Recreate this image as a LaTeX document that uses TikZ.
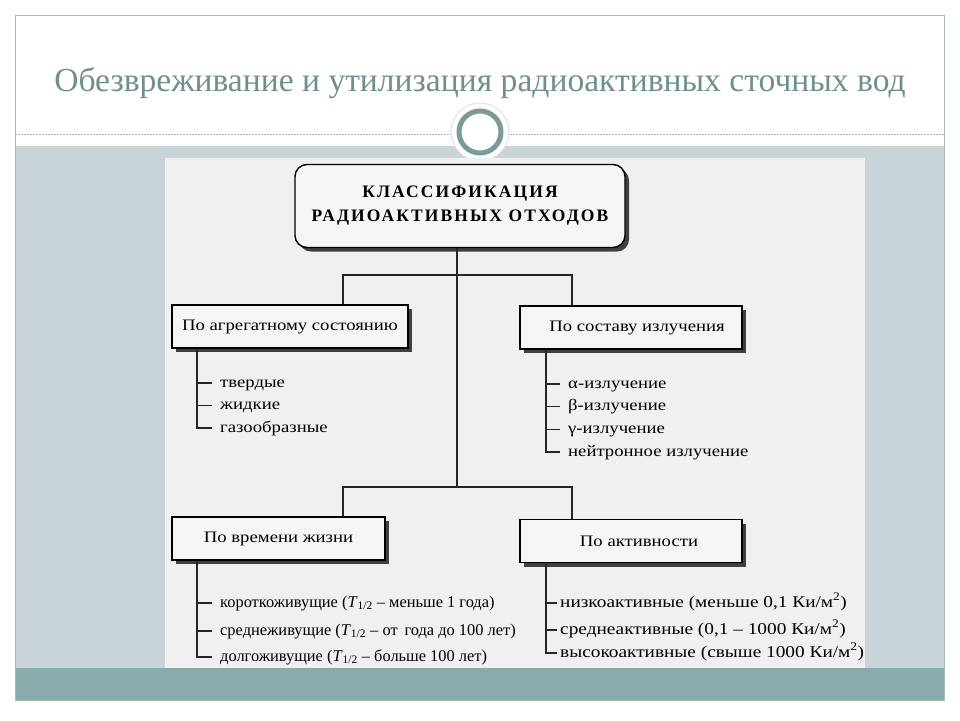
\documentclass[tikz,border=0pt]{standalone}
\usepackage{fontspec}
\setmainfont{Liberation Serif}
\newfontfamily\headfont[LetterSpace=12]{Liberation Serif}
\newfontfamily\widefont[FakeStretch=1.17]{Liberation Serif}
\usetikzlibrary{shadows}

\definecolor{slideteal}{HTML}{8AABAB}
\definecolor{slideband}{HTML}{C9D4D9}
\definecolor{slidetitle}{HTML}{6F8F8F}
\definecolor{ringteal}{HTML}{7B9B9B}
\definecolor{panelgray}{HTML}{F0F0F0}
\definecolor{framegray}{HTML}{A9B7B7}

\tikzset{
  catbox/.style={draw=black, line width=1.4pt, fill=black!4, minimum height=43pt,
    inner sep=0pt, font=\widefont\fontsize{16}{18}\selectfont,
    drop shadow={shadow xshift=4pt, shadow yshift=-4pt, fill=black!75, opacity=1}},
  item/.style={anchor=west, inner xsep=8pt, inner ysep=0pt, text height=11pt,
    text depth=3pt, font=\widefont\fontsize{16}{18}\selectfont},
  lifeitem/.style={item, font=\fontsize{16.4}{18}\selectfont},
  actitem/.style={item, inner xsep=3pt, font=\widefont\fontsize{16.5}{18}\selectfont},
  spine/.style={line width=1.3pt, black!85},
}

\begin{document}
\begin{tikzpicture}[x=1pt, y=-1pt]
  \useasboundingbox (0,0) rectangle (960,720);

  % --- Slide background ---
  \fill[white] (0,0) rectangle (960,720);
  \fill[slideband] (15,146) rectangle (944,668);
  \fill[slideteal] (15,668) rectangle (944,700);
  \draw[framegray, line width=0.8pt] (15,15) rectangle (944,700);
  \draw[framegray, dashed, dash pattern=on 2pt off 1pt, line width=0.7pt] (15,134) -- (944,134);

  % --- Ring ornament ---
  \fill[white, draw=black!12, line width=1pt] (480,132) circle (29);
  \draw[ringteal, line width=5pt] (480,132) circle (21);

  % --- Title ---
  \node[slidetitle, font=\fontsize{33.6}{36}\selectfont] (title) at (480,83)
    {Обезвреживание и утилизация радиоактивных сточных вод};

  % --- Panel ---
  \fill[panelgray] (165,158) rectangle (865,668);

  % --- Boxes ---
  \node[catbox, rounded corners=12pt, minimum width=330pt, minimum height=83pt,
    align=center, font=\fontsize{17.5}{24}\selectfont\headfont\bfseries] (cls) at (460,206)
    {КЛАССИФИКАЦИЯ\\РАДИОАКТИВНЫХ ОТХОДОВ};
  \node[catbox, minimum width=236pt] (agg) at (290,326.5) {По агрегатному состоянию};
  \node[catbox, minimum width=222pt] (rad) at (631,327.5) {\hspace{12pt}По составу излучения};
  \node[catbox, minimum width=213pt] (life) at (278.5,538.5) {По времени жизни};
  \node[catbox, minimum width=222pt] (act) at (631,541) {\hspace{16pt}По активности};

  % --- Tree connectors ---
  \coordinate (k1) at (343,275);
  \coordinate (k2) at (572,275);
  \coordinate (k3) at (343,487);
  \coordinate (k4) at (572,487);
  \coordinate (t2) at (457,487);
  \draw[spine] (cls.south -| t2) -- (t2);
  \draw[spine] (k1 |- agg.north) -- (k1) -- (k2) -- (k2 |- rad.north);
  \draw[spine] (k3 |- life.north) -- (k3) -- (k4) -- (k4 |- act.north);

  % --- Lists ---
  \coordinate (sl) at (197,0);
  \coordinate (sr) at (546,0);
  \foreach \t [count=\i] in {твердые, жидкие, газообразные}
    \node[item] (agg\i) at (212,{383+22.5*(\i-1)}) {\t};
  \foreach \t [count=\i] in {α-излучение, β-излучение, γ-излучение, нейтронное излучение}
    \node[item] (rad\i) at (560,{384+22.7*(\i-1)}) {\t};
  \node[lifeitem] (life1) at (212,603) {короткоживущие (\textit{T}\textsubscript{1/2} – меньше 1 года)};
  \node[lifeitem] (life2) at (212,631) {среднеживущие (\textit{T}\textsubscript{1/2} – от\, года до 100 лет)};
  \node[lifeitem] (life3) at (212,657) {долгоживущие (\textit{T}\textsubscript{1/2} – больше 100 лет)};
  \node[actitem] (act1) at (557,603) {низкоактивные (меньше 0,1 Ки/м\textsuperscript{2})};
  \node[actitem] (act2) at (557,630) {среднеактивные (0,1 – 1000 Ки/м\textsuperscript{2})};
  \node[actitem] (act3) at (557,653) {высокоактивные (свыше 1000 Ки/м\textsuperscript{2})};

  \draw[spine] (agg.south -| sl) |- (agg3.west);
  \draw[spine] (rad.south -| sr) |- (rad4.west);
  \draw[spine] (life.south -| sl) |- (life3.west);
  \draw[spine] (act.south -| sr) |- (act3.west);
  \foreach \n in {agg1, agg2, life1, life2}
    \draw[spine] (\n.west -| sl) -- (\n.west);
  \foreach \n in {rad1, rad2, rad3, act1, act2}
    \draw[spine] (\n.west -| sr) -- (\n.west);
\end{tikzpicture}
\end{document}
